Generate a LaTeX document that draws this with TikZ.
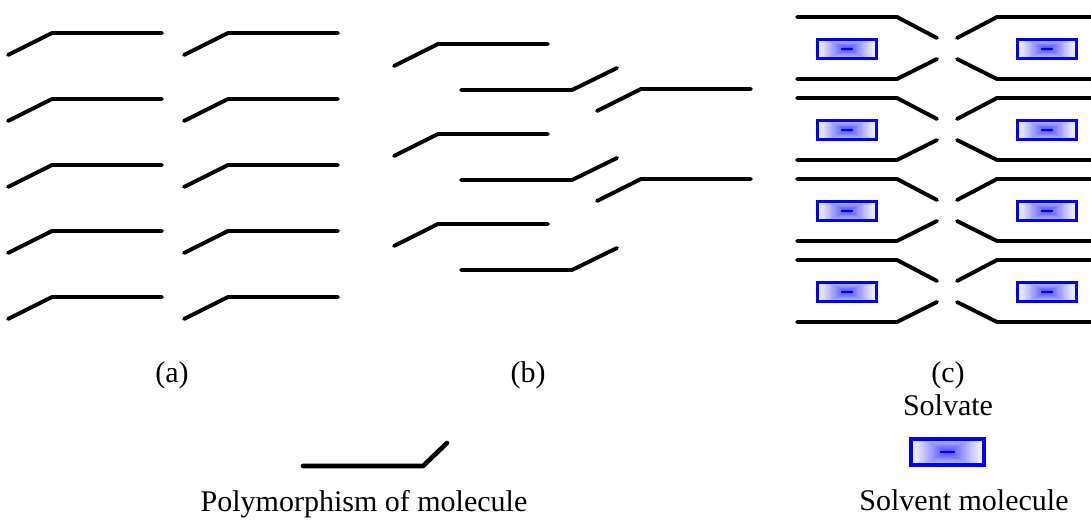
\documentclass[tikz,border=0pt]{standalone}
\usepackage{fontspec}
\setmainfont{Liberation Serif}
\begin{document}
\begin{tikzpicture}[x=1pt,y=-1pt,
  bond/.style={line width=3.9pt, line join=round, line cap=round},
  bigbond/.style={line width=4.6pt, line join=round, line cap=round},
  caption/.style={font=\fontsize{30}{36}\selectfont, anchor=base, inner sep=0pt},
  % molecule: tilted head on the left, long tail to the right
  pics/molup/.style={code={\draw[bond] (-44,22) -- (0,0) -- (110,0);}},
  % molecule: long body on the left, tilted head up to the right
  pics/moltail/.style={code={\draw[bond] (-111,0) -- (0,0) -- (45,-22);}},
  % solvent molecule: half width, half height, border width;
  % the fill is built from nested rectangles growing bluer towards the centre
  pics/solvent/.style n args={3}{code={
    \foreach \i in {0,...,23} {
      \pgfmathsetmacro{\t}{\i/24}
      \pgfmathsetmacro{\hw}{#1*(1-\t)}
      \pgfmathsetmacro{\hh}{#2*min(1,1.5*(1-\t))}
      \pgfmathsetmacro{\p}{4+72*\t^1.2}
      \fill[blue!\p] (-\hw,-\hh) rectangle (\hw,\hh);
    }
    \fill[blue!85!black] (-0.2*#1,-1) rectangle (0.2*#1,1);
    \draw[draw=blue, line width=#3] (-#1,-#2) rectangle (#1,#2);
  }},
]
\useasboundingbox (0,0) rectangle (1091,519);

% (a) one packing: two columns of identical molecules
\foreach \r in {0,...,4} {
  \pic (aL\r) at (52,33+66*\r) {molup};
  \pic (aR\r) at (228,33+66*\r) {molup};
}

% (b) another packing: staggered molecules with heads in both directions
\foreach \k in {0,1,2} {
  \pic (bL\k) at (438,44+90*\k) {molup};
  \pic (bM\k) at (572,90+90*\k) {moltail};
}
\foreach \k in {0,1} {
  \pic (bR\k) at (641,89+90*\k) {molup};
}

% (c) solvate: molecule pairs enclosing solvent molecules
\foreach \k in {0,...,3} {
  \pgfmathsetmacro{\T}{17+81*\k}
  \draw[bond] (797,\T) -- (897,\T) -- (937,\T+21);
  \draw[bond] (797,\T+62) -- (897,\T+62) -- (937,\T+42);
  \draw[bond] (1093,\T) -- (997,\T) -- (957,\T+21);
  \draw[bond] (1093,\T+62) -- (997,\T+62) -- (957,\T+42);
  \pic (sL\k) at (847,\T+32) {solvent={29.5}{9.5}{3pt}};
  \pic (sR\k) at (1047,\T+32) {solvent={29.5}{9.5}{3pt}};
}

% panel captions
\node[caption] (capa) at (172,382) {(a)};
\node[caption] (capb) at (528,382) {(b)};
\node[caption] (capc) at (948,382) {(c)};
\node[caption] (solvate) at (948,415) {Solvate};

% legend
\draw[bigbond] (303,466) -- (423,466) -- (447,443);
\node[caption] (poly) at (364,511) {Polymorphism of molecule};
\pic (legend) at (947.5,452) {solvent={36.5}{13}{4.2pt}};
\node[caption] (solvent) at (964,510) {Solvent molecule};
\end{tikzpicture}
\end{document}
